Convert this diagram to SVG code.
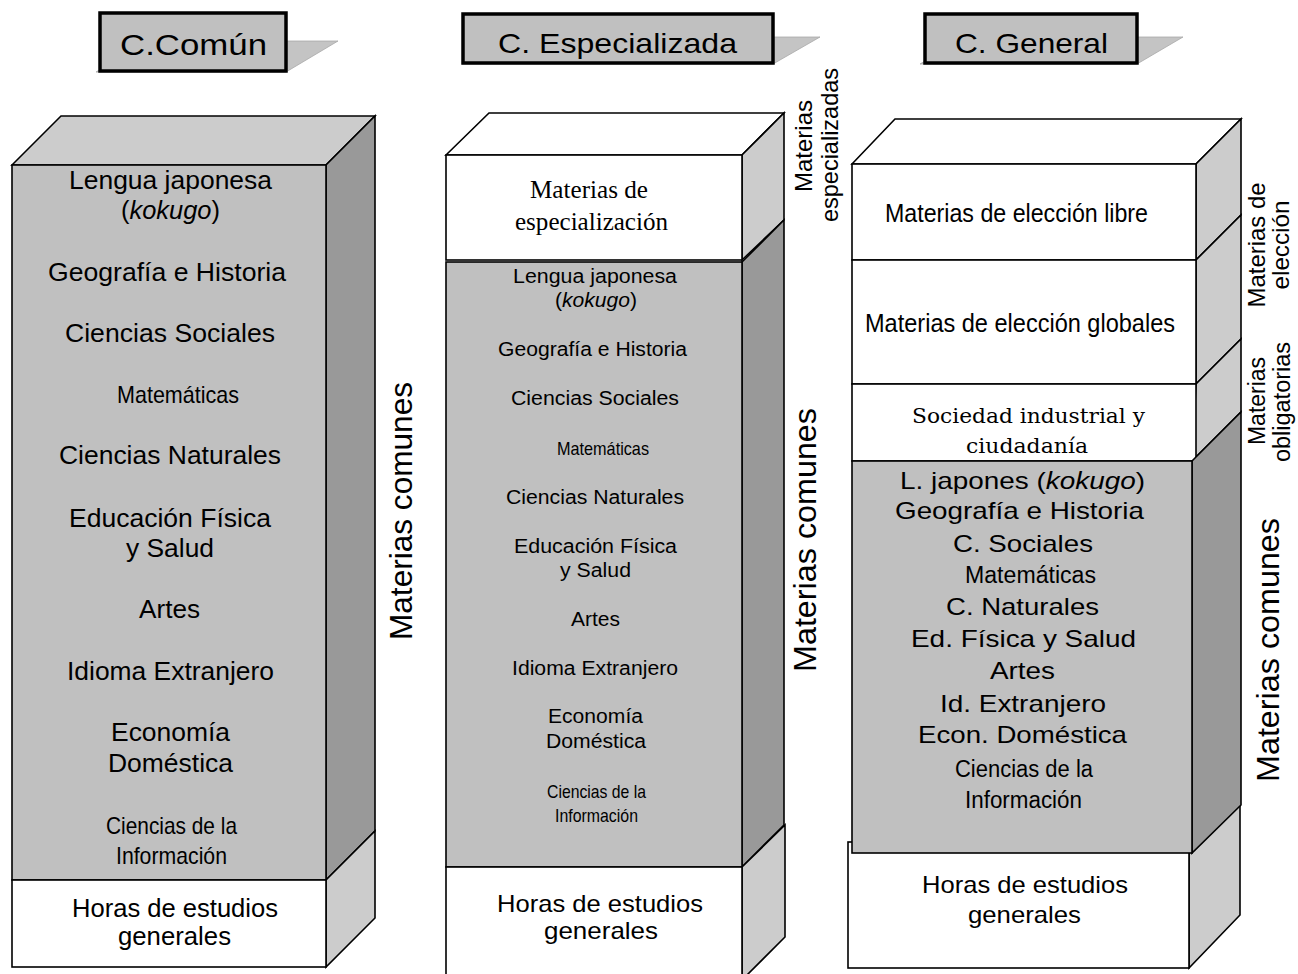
<svg xmlns="http://www.w3.org/2000/svg" width="1298" height="974" viewBox="0 0 1298 974">
<style>
.bg{fill:#ffffff}
.front{fill:#c0c0c0;stroke:#000;stroke-width:1.6}
.white{fill:#ffffff;stroke:#000;stroke-width:1.6}
.top{fill:#cccccc;stroke:#000;stroke-width:1.6}
.sideD{fill:#999999;stroke:#000;stroke-width:1.6}
.sideL{fill:#cccccc;stroke:#000;stroke-width:1.6}
.hbox{fill:#c0c0c0;stroke:#000;stroke-width:3.5}
.shadow{fill:#c4c4c4;stroke:#a8a8a8;stroke-width:0.8}
text{font-family:"Liberation Sans",Arial,sans-serif;fill:#000;text-anchor:middle}
.serif{font-family:"Liberation Serif","Times New Roman",serif}
.dserif{font-family:"DejaVu Serif","Liberation Serif",serif}
.h{font-size:28px}
.s25{font-size:25px}
.s24{font-size:24px}
.s23{font-size:23px}
.s20{font-size:20px}
.s19{font-size:19px}
.rot{font-size:32px}
</style>
<rect class="bg" x="0" y="0" width="1298" height="974"/>

<g id="header-comun">
  <polygon class="shadow" points="96,72 286,72 338,41 148,41"/>
  <rect class="hbox" x="100" y="13" width="186" height="58"/>
  <text x="193.5" y="55" font-size="30" textLength="147" lengthAdjust="spacingAndGlyphs">C.Común</text>
</g>
<g id="header-especializada">
  <polygon class="shadow" points="462,64 773,64 820,37 509,37"/>
  <rect class="hbox" x="463" y="14" width="310" height="49"/>
  <text class="h" x="617.5" y="53" textLength="239" lengthAdjust="spacingAndGlyphs">C. Especializada</text>
</g>
<g id="header-general">
  <polygon class="shadow" points="920,64 1137,64 1183,37 966,37"/>
  <rect class="hbox" x="925" y="14" width="212" height="49"/>
  <text class="h" x="1031.5" y="53" textLength="153" lengthAdjust="spacingAndGlyphs">C. General</text>
</g>

<g id="column-comun">
  <g id="c1-comunes">
    <polygon class="top" points="12,165 61,116 375,116 326,165"/>
    <polygon class="sideD" points="326,165 375,116 375,831 326,880"/>
    <rect class="front" x="12" y="165" width="314" height="715"/>
    <text class="s25" x="170.5" y="189" textLength="203" lengthAdjust="spacingAndGlyphs">Lengua japonesa</text>
    <text class="s25" x="170.5" y="219" textLength="99" lengthAdjust="spacingAndGlyphs">(<tspan font-style="italic">kokugo</tspan>)</text>
    <text class="s25" x="167" y="281" textLength="238" lengthAdjust="spacingAndGlyphs">Geografía e Historia</text>
    <text class="s25" x="170" y="342" textLength="210" lengthAdjust="spacingAndGlyphs">Ciencias Sociales</text>
    <text class="s24" x="178" y="403" textLength="122" lengthAdjust="spacingAndGlyphs">Matemáticas</text>
    <text class="s25" x="170" y="464" textLength="222" lengthAdjust="spacingAndGlyphs">Ciencias Naturales</text>
    <text class="s25" x="170" y="527" textLength="202" lengthAdjust="spacingAndGlyphs">Educación Física</text>
    <text class="s25" x="170" y="557" textLength="88" lengthAdjust="spacingAndGlyphs">y Salud</text>
    <text class="s25" x="169.5" y="618" textLength="61" lengthAdjust="spacingAndGlyphs">Artes</text>
    <text class="s25" x="170.5" y="680" textLength="207" lengthAdjust="spacingAndGlyphs">Idioma Extranjero</text>
    <text class="s25" x="170.5" y="741" textLength="119" lengthAdjust="spacingAndGlyphs">Economía</text>
    <text class="s25" x="170.5" y="772" textLength="125" lengthAdjust="spacingAndGlyphs">Doméstica</text>
    <text class="s24" x="171.5" y="834" textLength="131" lengthAdjust="spacingAndGlyphs">Ciencias de la</text>
    <text class="s24" x="171.5" y="864" textLength="111" lengthAdjust="spacingAndGlyphs">Información</text>
  </g>
  <g id="c1-horas">
    <polygon class="sideL" points="326,880 375,831 375,918 326,967"/>
    <rect class="white" x="12" y="880" width="314" height="87"/>
    <text class="s25" x="175" y="917" textLength="206" lengthAdjust="spacingAndGlyphs">Horas de estudios</text>
    <text class="s25" x="174.5" y="945" textLength="113" lengthAdjust="spacingAndGlyphs">generales</text>
  </g>
  <text class="rot" transform="translate(412,511) rotate(-90)" textLength="258" lengthAdjust="spacingAndGlyphs">Materias comunes</text>
</g>

<g id="column-especializada">
  <g id="c2-especializacion">
    <polygon class="white" points="446,155 489,113 784,113 742,155"/>
    <polygon class="sideL" points="742,155 784,113 784,220 742,260"/>
    <rect class="white" x="446" y="155" width="296" height="105"/>
    <text class="serif s25" x="589" y="198" textLength="118" lengthAdjust="spacingAndGlyphs">Materias de</text>
    <text class="serif s25" x="591.5" y="230" textLength="153" lengthAdjust="spacingAndGlyphs">especialización</text>
  </g>
  <g id="c2-comunes">
    <polygon class="sideD" points="742,262 784,220 784,825 742,867"/>
    <rect class="front" x="446" y="262" width="296" height="605"/>
    <text class="s20" x="595" y="283" textLength="164" lengthAdjust="spacingAndGlyphs">Lengua japonesa</text>
    <text class="s20" x="596" y="307" textLength="82" lengthAdjust="spacingAndGlyphs">(<tspan font-style="italic">kokugo</tspan>)</text>
    <text class="s20" x="592.5" y="356" textLength="189" lengthAdjust="spacingAndGlyphs">Geografía e Historia</text>
    <text class="s20" x="595" y="405" textLength="168" lengthAdjust="spacingAndGlyphs">Ciencias Sociales</text>
    <text class="s19" x="603" y="455" textLength="92" lengthAdjust="spacingAndGlyphs">Matemáticas</text>
    <text class="s20" x="595" y="504" textLength="178" lengthAdjust="spacingAndGlyphs">Ciencias Naturales</text>
    <text class="s20" x="595.5" y="553" textLength="163" lengthAdjust="spacingAndGlyphs">Educación Física</text>
    <text class="s20" x="595.5" y="577" textLength="71" lengthAdjust="spacingAndGlyphs">y Salud</text>
    <text class="s20" x="595.5" y="626" textLength="49" lengthAdjust="spacingAndGlyphs">Artes</text>
    <text class="s20" x="595" y="675" textLength="166" lengthAdjust="spacingAndGlyphs">Idioma Extranjero</text>
    <text class="s20" x="595.5" y="723" textLength="95" lengthAdjust="spacingAndGlyphs">Economía</text>
    <text class="s20" x="596" y="748" textLength="100" lengthAdjust="spacingAndGlyphs">Doméstica</text>
    <text class="s19" x="596.5" y="798" textLength="99" lengthAdjust="spacingAndGlyphs">Ciencias de la</text>
    <text class="s19" x="596.5" y="822" textLength="83" lengthAdjust="spacingAndGlyphs">Información</text>
  </g>
  <g id="c2-horas">
    <polygon class="sideL" points="742,867 785,825 785,937 742,980"/>
    <rect class="white" x="446" y="867" width="296" height="113"/>
    <text class="s24" x="600" y="912" textLength="206" lengthAdjust="spacingAndGlyphs">Horas de estudios</text>
    <text class="s24" x="601" y="939" textLength="114" lengthAdjust="spacingAndGlyphs">generales</text>
  </g>
  <text class="rot" transform="translate(816,540) rotate(-90)" textLength="264" lengthAdjust="spacingAndGlyphs">Materias comunes</text>
  <text class="s24" transform="translate(812,146) rotate(-90)" textLength="92" lengthAdjust="spacingAndGlyphs">Materias</text>
  <text class="s24" transform="translate(838,145) rotate(-90)" textLength="154" lengthAdjust="spacingAndGlyphs">especializadas</text>
</g>

<g id="column-general">
  <g id="c3-horas">
    <polygon class="sideL" points="1189,853 1240,805 1240,915 1189,968"/>
    <rect class="white" x="848" y="842" width="341" height="126"/>
    <text class="s24" x="1025" y="893" textLength="206" lengthAdjust="spacingAndGlyphs">Horas de estudios</text>
    <text class="s24" x="1024.5" y="923" textLength="113" lengthAdjust="spacingAndGlyphs">generales</text>
  </g>
  <g id="c3-libre">
    <polygon class="white" points="852,164 895,119 1241,119 1196,164"/>
    <polygon class="sideL" points="1196,164 1241,119 1241,215 1196,260"/>
    <rect class="white" x="852" y="164" width="344" height="96"/>
    <text x="1016.5" y="222" font-size="26" textLength="263" lengthAdjust="spacingAndGlyphs">Materias de elección libre</text>
  </g>
  <g id="c3-globales">
    <polygon class="sideL" points="1196,260 1241,215 1241,339 1196,384"/>
    <rect class="white" x="852" y="260" width="344" height="124"/>
    <text class="s25" x="1020" y="332" textLength="310" lengthAdjust="spacingAndGlyphs">Materias de elección globales</text>
  </g>
  <g id="c3-sociedad">
    <polygon class="sideL" points="1196,384 1241,339 1241,412 1192,461"/>
    <rect class="white" x="852" y="384" width="344" height="77"/>
    <text class="dserif s20" x="1028.5" y="423" textLength="233" lengthAdjust="spacingAndGlyphs">Sociedad industrial y</text>
    <text class="dserif s20" x="1027" y="453" textLength="122" lengthAdjust="spacingAndGlyphs">ciudadanía</text>
  </g>
  <g id="c3-comunes">
    <polygon class="sideD" points="1192,461 1241,412 1241,805 1192,853"/>
    <rect class="front" x="852" y="461" width="340" height="392"/>
    <text class="s24" x="1022.5" y="489" textLength="245" lengthAdjust="spacingAndGlyphs">L. japones (<tspan font-style="italic">kokugo</tspan>)</text>
    <text class="s24" x="1019.5" y="519" textLength="249" lengthAdjust="spacingAndGlyphs">Geografía e Historia</text>
    <text class="s24" x="1023" y="552" textLength="140" lengthAdjust="spacingAndGlyphs">C. Sociales</text>
    <text class="s23" x="1030.5" y="583" textLength="131" lengthAdjust="spacingAndGlyphs">Matemáticas</text>
    <text class="s24" x="1022.5" y="615" textLength="153" lengthAdjust="spacingAndGlyphs">C. Naturales</text>
    <text class="s24" x="1023.5" y="647" textLength="225" lengthAdjust="spacingAndGlyphs">Ed. Física y Salud</text>
    <text class="s24" x="1022.5" y="679" textLength="65" lengthAdjust="spacingAndGlyphs">Artes</text>
    <text class="s24" x="1023" y="712" textLength="166" lengthAdjust="spacingAndGlyphs">Id. Extranjero</text>
    <text class="s24" x="1022.5" y="743" textLength="209" lengthAdjust="spacingAndGlyphs">Econ. Doméstica</text>
    <text class="s23" x="1024" y="777" textLength="138" lengthAdjust="spacingAndGlyphs">Ciencias de la</text>
    <text class="s23" x="1023.5" y="808" textLength="117" lengthAdjust="spacingAndGlyphs">Información</text>
  </g>
  <text class="s24" transform="translate(1265,245) rotate(-90)" textLength="125" lengthAdjust="spacingAndGlyphs">Materias de</text>
  <text class="s24" transform="translate(1289,245) rotate(-90)" textLength="89" lengthAdjust="spacingAndGlyphs">elección</text>
  <text class="s23" transform="translate(1265,401) rotate(-90)" textLength="88" lengthAdjust="spacingAndGlyphs">Materias</text>
  <text class="s23" transform="translate(1290,402) rotate(-90)" textLength="120" lengthAdjust="spacingAndGlyphs">obligatorias</text>
  <text class="rot" transform="translate(1279,650) rotate(-90)" textLength="264" lengthAdjust="spacingAndGlyphs">Materias comunes</text>
</g>

<g id="connectors"/>
</svg>
